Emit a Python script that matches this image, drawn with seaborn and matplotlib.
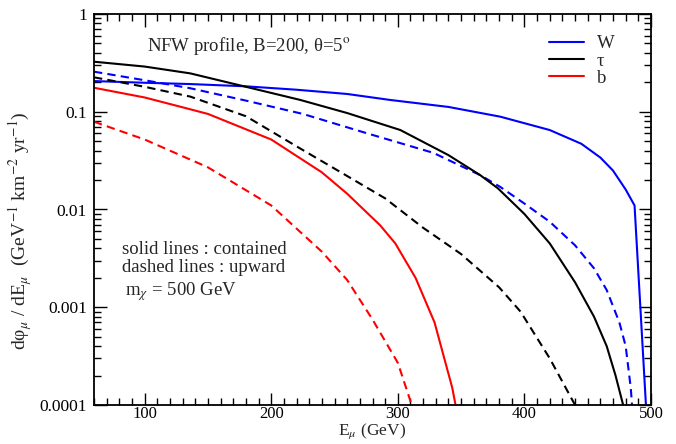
import numpy as np
import pandas as pd
import matplotlib
matplotlib.use("Agg")
import matplotlib.pyplot as plt
import seaborn as sns
from matplotlib.ticker import LogLocator, MultipleLocator, FixedLocator, NullFormatter
from matplotlib.lines import Line2D

# ---- data ----
w_con_x = [60, 100, 136, 180, 220, 260, 294, 340, 381, 420, 445, 460, 470, 480, 487, 496]
w_con_y = [0.206, 0.198, 0.192, 0.182, 0.168, 0.152, 0.132, 0.112, 0.089, 0.065, 0.047, 0.034, 0.025, 0.016, 0.011, 0.0001]

w_up_x = [60, 100, 136, 180, 225, 276, 328, 365, 381, 400, 420, 440, 455, 465, 475, 480, 484, 485]
w_up_y = [0.257, 0.21, 0.174, 0.13, 0.095, 0.06, 0.038, 0.0225, 0.017, 0.0115, 0.0075, 0.0043, 0.0025, 0.0015, 0.0007, 0.0004, 0.00015, 0.0001]

t_con_x = [60, 100, 136, 180, 223, 260, 302, 340, 365, 379, 400, 420, 440, 455, 465, 472, 478]
t_con_y = [0.325, 0.29, 0.247, 0.18, 0.132, 0.097, 0.065, 0.036, 0.0225, 0.0165, 0.009, 0.0045, 0.0018, 0.0008, 0.0004, 0.0002, 0.0001]

t_up_x = [60, 100, 136, 180, 223, 260, 290, 320, 350, 380, 397, 420, 440]
t_up_y = [0.225, 0.18, 0.143, 0.09, 0.042, 0.022, 0.013, 0.0065, 0.0035, 0.0016, 0.0009, 0.0003, 0.0001]

b_con_x = [60, 100, 136, 150, 200, 240, 260, 286, 298, 314, 329, 343, 345.6]
b_con_y = [0.176, 0.14, 0.106, 0.095, 0.052, 0.024, 0.0145, 0.0069, 0.0045, 0.002, 0.0007, 0.00015, 0.0001]

b_up_x = [60, 100, 150, 200, 240, 260, 280, 300, 311]
b_up_y = [0.079, 0.052, 0.027, 0.011, 0.0037, 0.0019, 0.00075, 0.00027, 0.0001]

x_ticks = [100, 200, 300, 400, 500]
y_ticks = [1e-4, 1e-3, 1e-2, 1e-1, 1]
y_tick_labels = ["0.0001", "0.001", "0.01", "0.1", "1"]

series = [
    ("W", "contained", w_con_x, w_con_y),
    ("W", "upward", w_up_x, w_up_y),
    ("τ", "contained", t_con_x, t_con_y),
    ("τ", "upward", t_up_x, t_up_y),
    ("b", "contained", b_con_x, b_con_y),
    ("b", "upward", b_up_x, b_up_y),
]
frames = []
for ch, kind, xs, ys in series:
    frames.append(pd.DataFrame({"E": xs, "flux": ys, "channel": ch, "kind": kind}))
df = pd.concat(frames, ignore_index=True)

sns.set_theme(style="ticks")
plt.rcParams["font.family"] = ["Liberation Serif", "DejaVu Serif"]
plt.rcParams["mathtext.fontset"] = "stix"

fig = plt.figure(figsize=(6.76, 4.44), dpi=100)
ax = fig.add_axes([94/676, 1-405/444, (651-94)/676, (405-14)/444])

palette = {"W": "#0000ff", "τ": "#000000", "b": "#ff0000"}
sns.lineplot(data=df, x="E", y="flux", hue="channel", style="kind",
             palette=palette, dashes={"contained": "", "upward": (4, 2.5)},
             hue_order=["W", "τ", "b"], style_order=["contained", "upward"],
             estimator=None, sort=False, linewidth=1.5, ax=ax, legend=False)

ax.set_yscale("log")
ax.set_xlim(60, 500)
ax.set_ylim(1e-4, 1)
ax.xaxis.set_major_locator(FixedLocator(x_ticks))
ax.xaxis.set_minor_locator(MultipleLocator(10))
ax.set_xticklabels([str(t) for t in x_ticks])
ax.yaxis.set_major_locator(FixedLocator(y_ticks))
ax.set_yticklabels(y_tick_labels)
ax.yaxis.set_minor_locator(LogLocator(base=10, subs=np.arange(2, 10)))
ax.yaxis.set_minor_formatter(NullFormatter())

ax.tick_params(which="both", direction="in", top=True, right=True, labelsize=12.5, width=1, colors="black")
ax.tick_params(which="major", length=9)
ax.tick_params(which="minor", length=5)
ax.tick_params(axis="x", pad=1, labelsize=12)
ax.tick_params(axis="y", pad=5)
for s in ax.spines.values():
    s.set_linewidth(1.3)
    s.set_color("black")

ax.set_xlabel(r"E$_\mu$ (GeV)", fontsize=12.5, labelpad=-1)
ax.set_ylabel(r"dφ$_\mu$ / dE$_\mu$  (GeV$^{-1}$ km$^{-2}$ yr$^{-1}$)", fontsize=14)
ax.yaxis.set_label_coords(-0.108, 0.445)

# legend
handles = [Line2D([], [], color=palette[c], lw=1.5) for c in ["W", "τ", "b"]]
leg = ax.legend(handles, ["W", "τ", "b"], loc="upper left", bbox_to_anchor=((545-94)/557, 0.955),
                frameon=False, fontsize=13.5, handlelength=1.9, handletextpad=0.65,
                labelspacing=0.0, borderaxespad=0, borderpad=0.2)

ax.text(0.095, 0.905, "NFW profile, B=200, θ=5$^{\\rm o}$", transform=ax.transAxes, fontsize=13.5)
ax.text(0.05, 0.385, "solid lines : contained", transform=ax.transAxes, fontsize=13.5)
ax.text(0.05, 0.34, "dashed lines : upward", transform=ax.transAxes, fontsize=13.5)
ax.text(0.056, 0.28, r"m$_\chi$ = 500 GeV", transform=ax.transAxes, fontsize=13.5)

fig.savefig("out.png", dpi=100)
